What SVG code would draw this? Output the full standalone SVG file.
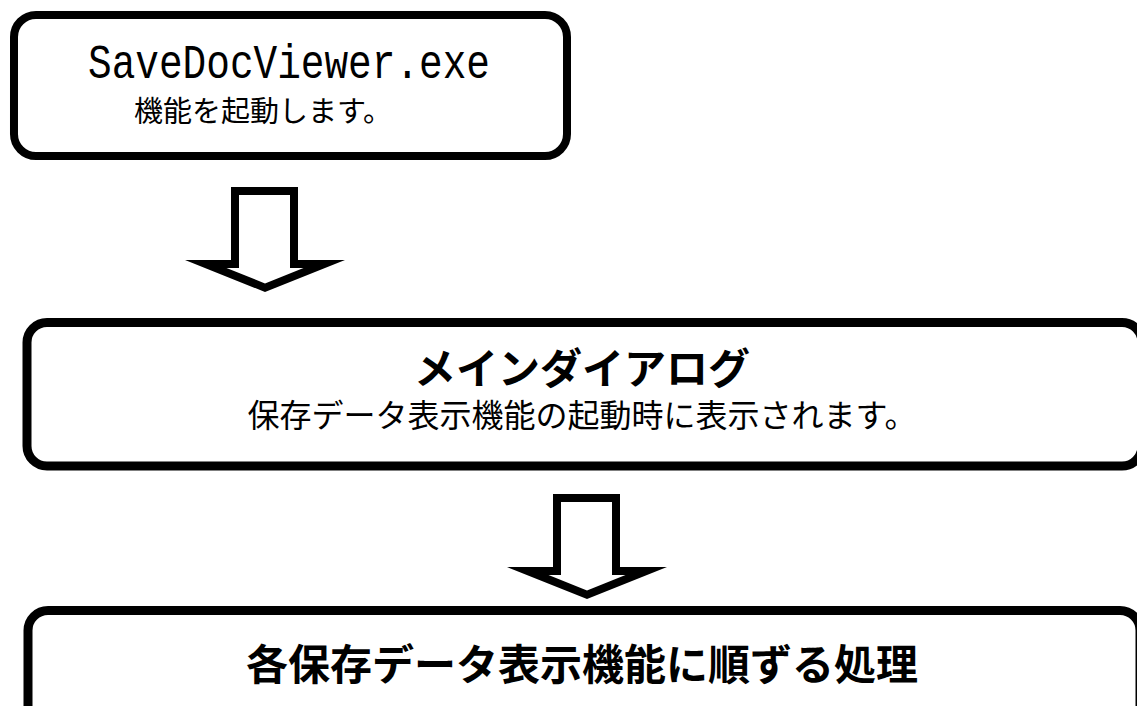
<svg xmlns="http://www.w3.org/2000/svg" xmlns:xlink="http://www.w3.org/1999/xlink" width="1137" height="706" viewBox="0 0 1137 706">
<style>
.box{fill:#fff;stroke:#000;}
.jp{font-family:"Noto Sans CJK JP","Noto Sans",sans-serif;fill:#000;text-anchor:middle;}
.mono{font-family:"Liberation Mono","DejaVu Sans Mono",monospace;fill:#000;text-anchor:middle;}
.b{font-weight:bold;}
</style>
<defs>
<g id="arrow">
<polygon points="231,187 298,187 298,260 345,260 265,292 185,260 231,260" fill="#000"/>
<polygon points="239,195 290,195 290,268 303.5,268 265,283.4 226.5,268 239,268" fill="#fff"/>
</g>
</defs>
<rect width="1137" height="706" fill="#fff"/>
<g id="connectors">
<use xlink:href="#arrow"/>
<use xlink:href="#arrow" transform="translate(322,307)"/>
</g>
<g id="node-exe">
<rect class="box" x="14" y="15" width="553" height="141" rx="22" stroke-width="8"/>
<text class="mono" x="289" y="78" font-size="48" textLength="402" lengthAdjust="spacingAndGlyphs">SaveDocViewer.exe</text>
<text class="jp" x="263" y="122" font-size="29">機能を起動します。</text>
</g>
<g id="node-main">
<rect class="box" x="27" y="322.5" width="1115" height="143.5" rx="20" stroke-width="9"/>
<text class="jp b" x="582" y="384" font-size="42">メインダイアログ</text>
<text class="jp" x="582" y="427" font-size="32">保存データ表示機能の起動時に表示されます。</text>
</g>
<g id="node-proc">
<rect class="box" x="28" y="610.5" width="1112" height="130" rx="20" stroke-width="9"/>
<text class="jp b" x="582" y="680" font-size="42">各保存データ表示機能に順ずる処理</text>
</g>
</svg>
